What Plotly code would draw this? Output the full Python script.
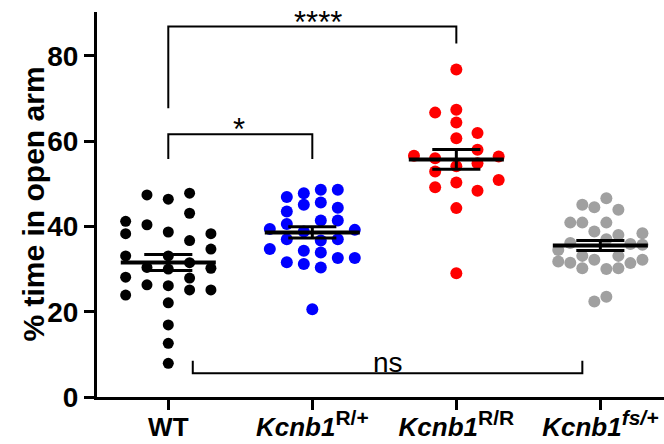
import numpy as np
import plotly.graph_objects as go

# ---------------- data ----------------
categories = ["WT", "Kcnb1 R/+", "Kcnb1 R/R", "Kcnb1 fs/+"]
tick_labels = [
    "WT",
    "<i>Kcnb1</i><sup><span style='font-size:21px'>R/+</span></sup>",
    "<i>Kcnb1</i><sup><span style='font-size:21px'>R/R</span></sup>",
    "<i>Kcnb1</i><sup><span style='font-size:21px'><i>fs/+</i></span></sup>",
]
y_title = "% time in open arm"

wt_values = [47.4, 46.4, 47.8, 43.1, 41.2, 40.4, 38.3, 38.7, 38.3, 36.7, 34.7, 33.1, 33.1, 30.4,
             30.0, 31.5, 30.2, 28.1, 26.3, 26.1, 27.9, 23.9, 25.1, 25.1, 22.1, 16.9, 12.6, 7.9]
rp_values = [46.9, 47.8, 48.6, 48.6, 45.1, 45.6, 43.5, 44.4, 40.6, 41.4, 41.4, 39.4, 39.2, 38.8,
             37.0, 36.7, 37.0, 34.7, 34.3, 33.9, 31.6, 31.2, 32.6, 32.6, 30.4, 20.6]
rr_values = [76.8, 66.7, 67.4, 64.4, 61.9, 60.7, 58.0, 56.6, 56.0, 56.4, 54.1, 54.8, 52.9, 50.9,
             49.2, 50.3, 48.4, 44.3, 29.0]
fs_values = [46.6, 45.1, 44.5, 43.9, 40.9, 40.9, 40.9, 38.8, 38.0, 38.4, 37.0, 36.1, 34.5, 35.9,
             35.7, 33.1, 33.1, 31.8, 31.5, 32.2, 32.2, 31.4, 30.2, 30.0, 30.2, 23.5, 22.4]

# ---------------- swarm layout (column slot of each point, and column spacing) ----------------
wt_slot = [-1, 0, 1, 1, -2, -1, -2, 0, 2, 1, 2, -2, 0, -1, 0, 1, 2, -2, -1, 0, 1, -2, 1, 2, 0, 0, 0, 0]
rp_slot = [-1.5, -0.5, 0.5, 1.5, -0.5, 0.5, -1.5, 1.5, -1.5, 0.5, 1.5, -2.5, 2.5, -0.5,
           -1.5, 0.5, 1.5, -2.5, -0.5, 0.5, -1.5, -0.5, 1.5, 2.5, 0.5, 0]
rr_slot = [0, -1, 0, 0, 1, 0, 1, -2, -1, 2, 0, 1, -1, 2, -1, 0, 1, 0, 0]
fs_slot = [0.5, -1.5, -0.5, 1.5, -2.5, -1.5, 0.5, -0.5, 1.5, 3.5, 0.5, -2.5, -3.5, 2.5,
           3.5, -1.5, 1.5, -3.5, -2.5, -0.5, 3.5, 2.5, -1.5, 0.5, 1.5, 0.5, -0.5]
slot_width = [0.148, 0.118, 0.147, 0.0835]

groups = [wt_values, rp_values, rr_values, fs_values]
slots = [wt_slot, rp_slot, rr_slot, fs_slot]
colors = ["#000000", "#0000ff", "#ff0000", "#a0a0a0"]
msizes = [11, 12, 12, 12]

# significance comparisons: (group a, group b, bracket height, leg end a, leg end b, label)
comparisons = [
    (0, 1, 61.6, 55.8, 55.8, "*"),
    (0, 2, 86.9, 67.7, 82.9, "****"),
]
ns_comparison = (0.17, 2.875, 5.56, 8.5, "ns")

FONT = "Liberation Sans, Arial, sans-serif"
fig = go.Figure()

for i, (vals, sl) in enumerate(zip(groups, slots)):
    xs = [i + s * slot_width[i] for s in sl]
    fig.add_trace(go.Scatter(
        x=xs, y=vals, mode="markers",
        marker=dict(color=colors[i], size=msizes[i], line=dict(width=0)),
        showlegend=False, hoverinfo="y"))

MEAN_HALF = 0.33
CAP_HALF = 0.167
for i, vals in enumerate(groups):
    v = np.array(vals)
    m = v.mean()
    sem = v.std(ddof=1) / np.sqrt(len(v))
    fig.add_trace(go.Scatter(x=[i - MEAN_HALF, i + MEAN_HALF], y=[m, m], mode="lines",
                             line=dict(color="black", width=4), showlegend=False, hoverinfo="skip"))
    fig.add_trace(go.Scatter(
        x=[i - CAP_HALF, i + CAP_HALF, None, i - CAP_HALF, i + CAP_HALF, None, i, i],
        y=[m + sem, m + sem, None, m - sem, m - sem, None, m - sem, m + sem],
        mode="lines", line=dict(color="black", width=3), showlegend=False, hoverinfo="skip"))

for a, b, h, la, lb, lab in comparisons:
    fig.add_trace(go.Scatter(x=[a, a, b, b], y=[la, h, h, lb], mode="lines",
                             line=dict(color="black", width=2), showlegend=False, hoverinfo="skip"))
    fig.add_annotation(x=(a + b) / 2 + (0.04 if lab == "****" else -0.01), y=h, yanchor="bottom",
                       text=lab, showarrow=False, yshift=-15,
                       font=dict(family=FONT, size=31, color="black"))

xa, xb, h, leg, lab = ns_comparison
fig.add_trace(go.Scatter(x=[xa, xa, xb, xb], y=[leg, h, h, leg], mode="lines",
                         line=dict(color="black", width=2), showlegend=False, hoverinfo="skip"))
fig.add_annotation(x=(xa + xb) / 2, y=h, yanchor="bottom", text=lab, showarrow=False, yshift=-7,
                   font=dict(family=FONT, size=28, color="black"))

# y-axis title placed as rotated text
fig.add_annotation(xref="paper", yref="paper", x=(33 - 97) / 567, y=0.5, xanchor="center",
                   yanchor="middle", textangle=-90, text=y_title, showarrow=False,
                   font=dict(family=FONT, size=30, color="black", weight="bold"))

fig.update_layout(
    width=664, height=444,
    margin=dict(l=97, r=0, t=12, b=47, autoexpand=False),
    plot_bgcolor="white", paper_bgcolor="white",
    font=dict(family=FONT, color="black"),
    xaxis=dict(range=[-0.495, 3.442], tickvals=[0, 1, 2, 3], ticktext=tick_labels,
               automargin=False, ticklabelstandoff=-5,
               showline=True, linewidth=3, linecolor="black", showgrid=False, zeroline=False,
               ticks="outside", ticklen=10, tickwidth=3, tickcolor="black",
               tickfont=dict(family=FONT, size=26, color="black", weight="bold")),
    yaxis=dict(range=[0, 90.3], tickvals=[0, 20, 40, 60, 80], automargin=False,
               showline=True, linewidth=3, linecolor="black", showgrid=False, zeroline=False,
               ticks="outside", ticklen=10, tickwidth=3, tickcolor="black",
               tickfont=dict(family=FONT, size=28, color="black", weight="bold")),
)

fig.write_html("out.html")
